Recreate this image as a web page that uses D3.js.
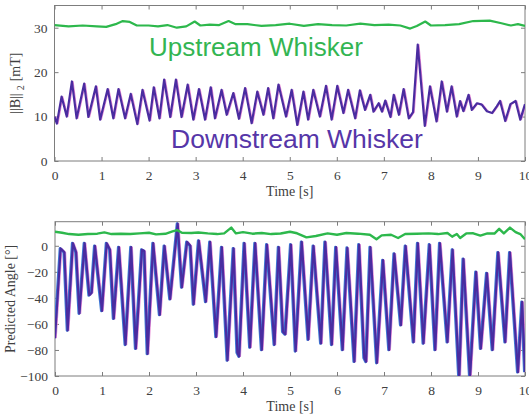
<!DOCTYPE html>
<html>
<head>
<meta charset="utf-8">
<script src="https://cdn.jsdelivr.net/npm/d3@7"></script>
<style>
  body { margin: 0; background: #fff; }
  text { font-family: "Liberation Serif", "Times New Roman", serif; }
</style>
</head>
<body>
<div class="display"></div>
<script>
// Two stacked MATLAB-style panels: field magnitude (top) and predicted angle (bottom)

const W = 529;
const H = 420;

// ---- data ----
const xTicks = [0, 1, 2, 3, 4, 5, 6, 7, 8, 9, 10];
const topYTicks = [0, 10, 20, 30];
const botYTicks = [-100, -80, -60, -40, -20, 0];

// top panel, upstream whisker |B| [mT]
const upT = [0, 0.3, 0.6, 0.9, 1.1, 1.3, 1.45, 1.6, 1.75, 2.0, 2.2, 2.4, 2.6, 2.8, 2.98, 3.1, 3.3, 3.5, 3.7, 3.85, 4.1, 4.4, 4.7, 5.0, 5.3, 5.6, 5.9, 6.2, 6.5, 6.8, 7.1, 7.35, 7.56, 7.7, 7.88, 8.0, 8.3, 8.6, 8.9, 9.25, 9.5, 9.7, 9.85, 10];
const upB = [30.6, 30.3, 30.5, 30.3, 30.2, 30.8, 31.5, 31.3, 30.5, 30.5, 30.3, 30.6, 30.0, 30.3, 31.4, 30.5, 30.7, 30.6, 31.5, 30.8, 30.8, 30.4, 30.6, 30.9, 30.4, 30.8, 30.6, 30.5, 30.9, 30.6, 30.7, 30.5, 29.8, 30.4, 31.4, 30.5, 30.6, 30.8, 31.5, 31.6, 31.0, 30.5, 30.8, 30.4];

// top panel, downstream whisker |B| [mT]
const downT = [0, 0.05, 0.15, 0.26, 0.37, 0.47, 0.63, 0.72, 0.88, 0.97, 1.13, 1.25, 1.36, 1.5, 1.62, 1.76, 1.87, 2.02, 2.11, 2.23, 2.33, 2.46, 2.58, 2.7, 2.83, 2.95, 3.07, 3.2, 3.32, 3.41, 3.55, 3.66, 3.8, 3.92, 4.05, 4.19, 4.31, 4.44, 4.54, 4.65, 4.76, 4.92, 5.04, 5.16, 5.29, 5.39, 5.5, 5.64, 5.77, 5.89, 6.01, 6.14, 6.24, 6.39, 6.49, 6.6, 6.71, 6.78, 6.89, 6.96, 7.03, 7.14, 7.21, 7.32, 7.42, 7.53, 7.62, 7.72, 7.87, 7.98, 8.12, 8.23, 8.34, 8.44, 8.55, 8.62, 8.69, 8.8, 8.87, 8.98, 9.08, 9.19, 9.3, 9.4, 9.47, 9.58, 9.69, 9.8, 9.9, 10];
const downB = [10, 8.4, 14.5, 10, 17.9, 9.6, 17.4, 9.9, 16.8, 9.3, 16.2, 9.6, 16.2, 9.6, 15.1, 8.3, 16, 9.1, 16.6, 9.6, 18.3, 9.9, 18.3, 9.9, 17.2, 9.3, 16.2, 9.3, 16.6, 9.6, 16, 10.4, 15.3, 9.5, 16.4, 8.5, 15.6, 10.4, 16.4, 9.6, 17.2, 10, 16, 8.1, 15.6, 9.3, 16, 10, 16.9, 9.3, 16.9, 10.8, 16, 9.6, 15.9, 11.5, 14.9, 11.1, 13, 11.1, 13.6, 9.9, 14.9, 10.4, 16.2, 9.6, 11, 26.2, 7.9, 16.8, 8.9, 17.9, 11.1, 16.8, 10, 13.5, 11.2, 14.9, 11.5, 13, 12.7, 11.2, 10.8, 12.3, 13.5, 9, 12.8, 13.5, 9.3, 12.8];

// bottom panel, upstream angle [deg]
const upAngT = [0, 0.15, 0.3, 0.5, 0.7, 0.9, 1.05, 1.2, 1.4, 1.6, 1.8, 2.0, 2.15, 2.35, 2.5, 2.6, 2.7, 2.9, 3.05, 3.25, 3.45, 3.6, 3.75, 3.85, 4.0, 4.2, 4.4, 4.6, 4.8, 5.0, 5.15, 5.35, 5.55, 5.8, 6.0, 6.2, 6.45, 6.7, 6.84, 6.95, 7.15, 7.3, 7.45, 7.7, 7.95, 8.15, 8.35, 8.45, 8.55, 8.62, 8.75, 8.9, 9.05, 9.2, 9.35, 9.45, 9.55, 9.68, 9.8, 9.9, 10];
const upAng = [10.8, 10, 9, 8.5, 9, 9.3, 10.3, 9, 9.3, 9, 9.5, 10, 8.8, 9.2, 11, 12, 10, 9.8, 10.2, 9.5, 9, 9.5, 14, 9.5, 10.5, 9.3, 9.8, 9, 9.4, 10.8, 9.6, 6.5, 7.5, 9.5, 8.5, 9.8, 9.3, 8.5, 5, 8, 8.5, 6, 9, 9.3, 9.5, 9, 9.8, 7, 9, 6, 9.5, 9.6, 7.8, 9.5, 9.4, 13, 9.5, 14, 10.5, 9, 5];

// bottom panel, downstream angle [deg]
const downAngT = [0, 0.12, 0.2, 0.27, 0.38, 0.45, 0.52, 0.63, 0.73, 0.78, 0.85, 1.0, 1.1, 1.17, 1.25, 1.36, 1.5, 1.62, 1.72, 1.85, 1.9, 1.97, 2.09, 2.23, 2.33, 2.45, 2.61, 2.7, 2.81, 2.88, 2.95, 3.06, 3.21, 3.3, 3.43, 3.55, 3.67, 3.8, 3.88, 3.92, 4.03, 4.15, 4.26, 4.4, 4.51, 4.67, 4.76, 4.85, 4.9, 5.02, 5.12, 5.25, 5.39, 5.5, 5.66, 5.75, 5.89, 5.98, 6.12, 6.22, 6.37, 6.47, 6.58, 6.62, 6.71, 6.85, 6.98, 7.11, 7.22, 7.36, 7.46, 7.63, 7.72, 7.84, 7.97, 8.09, 8.19, 8.35, 8.46, 8.6, 8.69, 8.83, 8.96, 9.06, 9.19, 9.31, 9.43, 9.58, 9.68, 9.85, 9.94, 10];
const downAng = [-71, -2, -5, -65, 2, -5, -52, 2, -38, -36, 0, -50, 2, -3, -56, -1, -76, -1, -79, -3, -4, -83, 2, -53, 0, -41, 17, -32, 3, 0, -45, 4, -43, 3, -70, -1, -88, -2, -82, -85, 2, -78, 2, -80, 1, -76, -1, -66, -68, 1, -81, 3, -72, 0, -75, 3, -76, -1, -80, -1.5, -89, 1, -86, -89, -1, -90, -11, -80, -6, -61, 0, -74, 2, -75, 1, -80, 2, -74, -3, -102, -10, -101, -20, -79, -21, -80, -5, -74, -5, -97, -43, -97];

// ---- colours ----
const GREEN = '#2db84c';
const PURPLE = '#4a2ca0';
const BLUE = '#3d7ad6';
const PINK = '#e58ad6';
const AXIS = '#7d7d7d';
const LABEL = '#404040';
const SERIF = '"Liberation Serif", "Times New Roman", serif';

const svg = d3.select('.display')
  .append('svg')
  .attr('width', W)
  .attr('height', H);

// builds one panel with box axes, inward ticks on all four sides
function makePanel(id, box, yDomain, yTicks, yLabel) {
  const x = d3.scaleLinear().domain([0, 10]).range([box.left, box.right]);
  const y = d3.scaleLinear().domain(yDomain).range([box.bottom, box.top]);

  svg.append('clipPath').attr('id', id)
    .append('rect')
    .attr('x', box.left).attr('y', box.top)
    .attr('width', box.right - box.left).attr('height', box.bottom - box.top);

  const g = svg.append('g');

  const styleAxis = sel => {
    sel.attr('font-family', SERIF).attr('font-size', 13.5);
    sel.select('.domain').remove();
    sel.selectAll('line').attr('stroke', AXIS);
    sel.selectAll('text').attr('fill', LABEL);
  };

  g.append('g')
    .attr('transform', `translate(0,${box.bottom})`)
    .call(d3.axisBottom(x).tickValues(xTicks).tickFormat(d3.format('d')).tickSizeInner(-4).tickPadding(9))
    .call(styleAxis);
  g.append('g')
    .attr('transform', `translate(0,${box.top})`)
    .call(d3.axisTop(x).tickValues(xTicks).tickFormat('').tickSizeInner(-4))
    .call(styleAxis);
  g.append('g')
    .attr('transform', `translate(${box.left},0)`)
    .call(d3.axisLeft(y).tickValues(yTicks).tickFormat(d3.format('d')).tickSizeInner(-4).tickPadding(7))
    .call(styleAxis);
  g.append('g')
    .attr('transform', `translate(${box.right},0)`)
    .call(d3.axisRight(y).tickValues(yTicks).tickFormat('').tickSizeInner(-4))
    .call(styleAxis);

  g.append('rect')
    .attr('x', box.left).attr('y', box.top)
    .attr('width', box.right - box.left).attr('height', box.bottom - box.top)
    .attr('fill', 'none')
    .attr('stroke', AXIS)
    .attr('stroke-width', 1);

  // x axis title
  g.append('text')
    .attr('x', (box.left + box.right) / 2)
    .attr('y', box.bottom + 35)
    .attr('text-anchor', 'middle')
    .attr('fill', LABEL)
    .style('font-size', '14px')
    .text('Time [s]');

  // y axis title
  const yl = g.append('text')
    .attr('transform', `translate(${box.yLabelX},${(box.top + box.bottom) / 2}) rotate(-90)`)
    .attr('text-anchor', 'middle')
    .attr('fill', LABEL)
    .style('font-size', '14px');
  yLabel(yl);

  return { x, y, plot: svg.append('g').attr('clip-path', `url(#${id})`) };
}

function drawLine(panel, ts, vs, color, width, dx) {
  const line = d3.line()
    .x(d => panel.x(d[0]))
    .y(d => panel.y(d[1]));
  panel.plot.append('path')
    .datum(d3.zip(ts, vs))
    .attr('transform', `translate(${dx || 0},0)`)
    .attr('d', line)
    .attr('fill', 'none')
    .attr('stroke', color)
    .attr('stroke-width', width)
    .attr('stroke-linejoin', 'round');
}

// ---- top panel ----
const topPanel = makePanel('clip-top',
  { left: 54.5, right: 525, top: 5.5, bottom: 161, yLabelX: 20 },
  [0, 35], topYTicks,
  t => {
    t.append('tspan').text('||B||');
    t.append('tspan').attr('dx', 3).attr('dy', 4).style('font-size', '10px').text('2');
    t.append('tspan').attr('dx', 4).attr('dy', -4).text('[mT]');
  });

drawLine(topPanel, downT, downB, PINK, 1.2, 1.2);
drawLine(topPanel, downT, downB, PURPLE, 2.2);
drawLine(topPanel, upT, upB, GREEN, 2.2);

svg.append('text')
  .attr('x', 149)
  .attr('y', 56)
  .attr('fill', '#33b552')
  .style('font-family', '"Liberation Sans", Arial, sans-serif')
  .style('font-size', '26px')
  .text('Upstream Whisker');

svg.append('text')
  .attr('x', 171)
  .attr('y', 148)
  .attr('fill', '#5636a8')
  .style('font-family', '"Liberation Sans", Arial, sans-serif')
  .style('font-size', '26.5px')
  .text('Downstream Whisker');

// ---- bottom panel ----
const botPanel = makePanel('clip-bot',
  { left: 55, right: 525, top: 221.7, bottom: 376, yLabelX: 15 },
  [-100, 18.5], botYTicks,
  t => t.text('Predicted Angle [°]'));

drawLine(botPanel, downAngT, downAng, PINK, 1.2, 1.2);
drawLine(botPanel, downAngT, downAng, BLUE, 2.8, -0.6);
drawLine(botPanel, downAngT, downAng, PURPLE, 2.2);
drawLine(botPanel, upAngT, upAng, GREEN, 2.4);
</script>
</body>
</html>
